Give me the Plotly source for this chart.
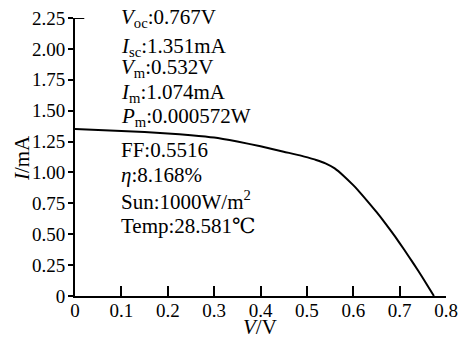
import plotly.graph_objects as go

# I-V curve data
voltage = [0, 0.05, 0.10, 0.15, 0.20, 0.25, 0.30, 0.35, 0.40, 0.45, 0.485, 0.51, 0.52, 0.54,
           0.56, 0.58, 0.60, 0.61, 0.63, 0.65, 0.67, 0.69, 0.71, 0.73, 0.75, 0.774]
current = [1.351, 1.344, 1.336, 1.327, 1.316, 1.302, 1.283, 1.250, 1.212, 1.168, 1.138, 1.112, 1.101, 1.074,
           1.033, 0.970, 0.897, 0.857, 0.770, 0.680, 0.584, 0.482, 0.374, 0.262, 0.146, 0.0]

x_tickvals = [0, 0.1, 0.2, 0.3, 0.4, 0.5, 0.6, 0.7, 0.8]
x_ticktext = ["0", "0.1", "0.2", "0.3", "0.4", "0.5", "0.6", "0.7", "0.8"]
y_tickvals = [0, 0.25, 0.5, 0.75, 1.0, 1.25, 1.5, 1.75, 2.0, 2.25]
y_ticktext = ["0", "0.25", "0.50", "0.75", "1.00", "1.25", "1.50", "1.75", "2.00", "2.25"]

x_title = "<i>V</i>/V"
y_title = "<i>I</i>/mA"

info_lines = [
    "<i>V</i><sub>oc</sub>:0.767V",
    "<i>I</i><sub>sc</sub>:1.351mA",
    "<i>V</i><sub>m</sub>:0.532V",
    "<i>I</i><sub>m</sub>:1.074mA",
    "<i>P</i><sub>m</sub>:0.000572W",
    "FF:0.5516",
    "<i>η</i>:8.168%",
    "Sun:1000W/m<sup>2</sup>",
    "Temp:28.581℃",
]
info_y = [2.249, 2.014, 1.845, 1.642, 1.448, 1.181, 0.979, 0.777, 0.566]

FONT = "Liberation Serif, Times New Roman, DejaVu Serif, serif"

fig = go.Figure()
fig.add_trace(go.Scatter(x=voltage, y=current, mode="lines",
                         line=dict(color="black", width=2, shape="spline", smoothing=0.5),
                         showlegend=False, hoverinfo="skip"))

for txt, yy in zip(info_lines, info_y):
    fig.add_annotation(x=0.096, y=yy, xref="x", yref="y", text=txt, showarrow=False,
                       xanchor="left", yanchor="middle", borderpad=0,
                       font=dict(family=FONT, size=21, color="black"))

# axis titles
fig.add_annotation(x=0.4987, y=-0.11, xref="paper", yref="paper", text=x_title,
                   showarrow=False, xanchor="center", yanchor="middle", borderpad=0,
                   font=dict(family=FONT, size=21, color="black"))
fig.add_annotation(x=-0.143, y=0.496, xref="paper", yref="paper", text=y_title,
                   showarrow=False, xanchor="center", yanchor="middle", textangle=-90,
                   borderpad=0, font=dict(family=FONT, size=21, color="black"))

fig.add_shape(type="line", xref="x domain", yref="y", x0=0, x1=0.025, y0=2.25, y1=2.25,
              line=dict(color="black", width=2))

fig.update_layout(
    width=460, height=340,
    margin=dict(l=75, r=14, t=18, b=44),
    paper_bgcolor="white", plot_bgcolor="white",
    font=dict(family=FONT, size=19, color="black"),
    xaxis=dict(range=[0, 0.8], tickvals=x_tickvals, ticktext=x_ticktext, automargin=False,
               showgrid=False, zeroline=False, showline=True, linecolor="black", linewidth=2,
               ticks="inside", ticklen=10, tickwidth=2, tickcolor="black",
               ticklabelstandoff=-4),
    yaxis=dict(range=[0, 2.25], tickvals=y_tickvals, ticktext=y_ticktext, automargin=False,
               showgrid=False, zeroline=False, showline=True, linecolor="black", linewidth=2,
               ticks="outside", ticklen=5, tickwidth=2, tickcolor="black",
               ticklabelstandoff=-1),
)

fig.write_html("out.html")
